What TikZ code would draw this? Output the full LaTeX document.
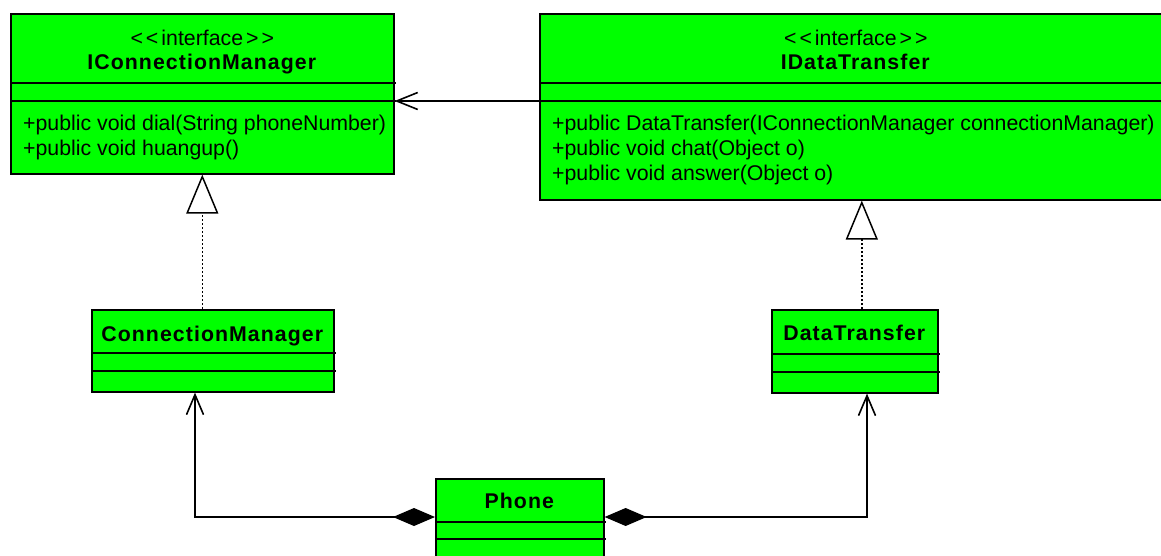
\documentclass[tikz,border=0pt]{standalone}
\usepackage{fontspec}
\setmainfont{Liberation Sans}[BoldFeatures={LetterSpace=5}]
\usetikzlibrary{arrows.meta, positioning, calc}
\definecolor{umlgreen}{RGB}{0,255,0}

\begin{document}
\begin{tikzpicture}[
    x=1pt, y=-1pt,
    font=\fontsize{21.3}{25}\selectfont,
    classbox/.style={draw=black, fill=umlgreen, line width=1.6pt, anchor=north west, inner sep=0pt},
    sepline/.style={line width=1.6pt},
    txt/.style={inner sep=0pt, anchor=base},
    member/.style={inner sep=0pt, anchor=base west},
    assoc/.style={-{Straight Barb[length=21pt, width=17pt]}, line width=1.6pt},
    realize/.style={-{Triangle[length=39pt, width=32pt, fill=white]}, line width=1.5pt, dash pattern=on 2pt off 2pt},
    compose/.style={{Diamond[length=42pt, width=18pt]}-{Straight Barb[length=20pt, width=17pt]}, line width=1.6pt}
  ]
    \clip (0,0) rectangle (1161,556);
    \node[classbox, minimum width=383pt, minimum height=160pt] (icm) at (10,13) {};
    \node[classbox, minimum width=632pt, minimum height=186pt] (idt) at (539,13) {};
    \node[classbox, minimum width=242pt, minimum height=82pt] (cm) at (91,309) {};
    \node[classbox, minimum width=166pt, minimum height=83pt] (dt) at (771,309) {};
    \node[classbox, minimum width=168pt, minimum height=100pt] (phone) at (435,478) {};
    \draw[sepline] ($(icm.north west)+(0,70)$) -- ++(386,0);
    \draw[sepline] ($(icm.north west)+(0,88)$) -- ++(386,0);
    \draw[sepline] ($(idt.north west)+(0,70)$) -- ++(640,0);
    \draw[sepline] ($(idt.north west)+(0,88)$) -- ++(640,0);
    \draw[sepline] ($(cm.north west)+(0,44)$) -- ++(245,0);
    \draw[sepline] ($(cm.north west)+(0,62)$) -- ++(245,0);
    \draw[sepline] ($(dt.north west)+(0,45)$) -- ++(169,0);
    \draw[sepline] ($(dt.north west)+(0,63)$) -- ++(169,0);
    \draw[sepline] ($(phone.north west)+(0,44)$) -- ++(171,0);
    \draw[sepline] ($(phone.north west)+(0,61)$) -- ++(171,0);
    \node[txt] (icm-st) at ($(icm.north)+(0,33)$) {<\kern3pt<\kern3pt interface\kern3pt>\kern3pt>};
    \node[txt] (icm-name) at ($(icm.north)+(0,56.5)$) {\textbf{IConnectionManager}};
    \node[member] (icm-m1) at ($(icm.north west)+(13,118)$) {+public void dial(String phoneNumber)};
    \node[member] (icm-m2) at ($(icm.north west)+(13,143)$) {+public void huangup()};
    \node[txt] (idt-st) at ($(idt.north)+(0,33)$) {<\kern3pt<\kern3pt interface\kern3pt>\kern3pt>};
    \node[txt] (idt-name) at ($(idt.north)+(0,56.5)$) {\textbf{IDataTransfer}};
    \node[member] (idt-m1) at ($(idt.north west)+(13,118)$) {+public DataTransfer(IConnectionManager connectionManager)};
    \node[member] (idt-m2) at ($(idt.north west)+(13,143)$) {+public void chat(Object o)};
    \node[member] (idt-m3) at ($(idt.north west)+(13,168)$) {+public void answer(Object o)};
    \node[txt] (cm-name) at ($(cm.north)+(0,32)$) {\textbf{ConnectionManager}};
    \node[txt] (dt-name) at ($(dt.north)+(0,31)$) {\textbf{DataTransfer}};
    \node[txt] (phone-name) at ($(phone.north)+(0,30)$) {\textbf{Phone}};
    \draw[assoc] ($(idt.north west)+(0,88)$) -- ($(icm.north east)+(0,88)$);
    \draw[realize] (icm.south |- cm.north) -- (icm.south);
    \coordinate (dt-top) at ($(dt.north)+(7,0)$);
    \draw[realize] (dt-top) -- (dt-top |- idt.south);
    \draw[compose] ($(phone.north west)+(0,39)$) -| ($(cm.south west)+(104,0)$);
    \draw[compose] ($(phone.north east)+(0,39)$) -| ($(dt.south west)+(96,0)$);
  \end{tikzpicture}
\end{document}
